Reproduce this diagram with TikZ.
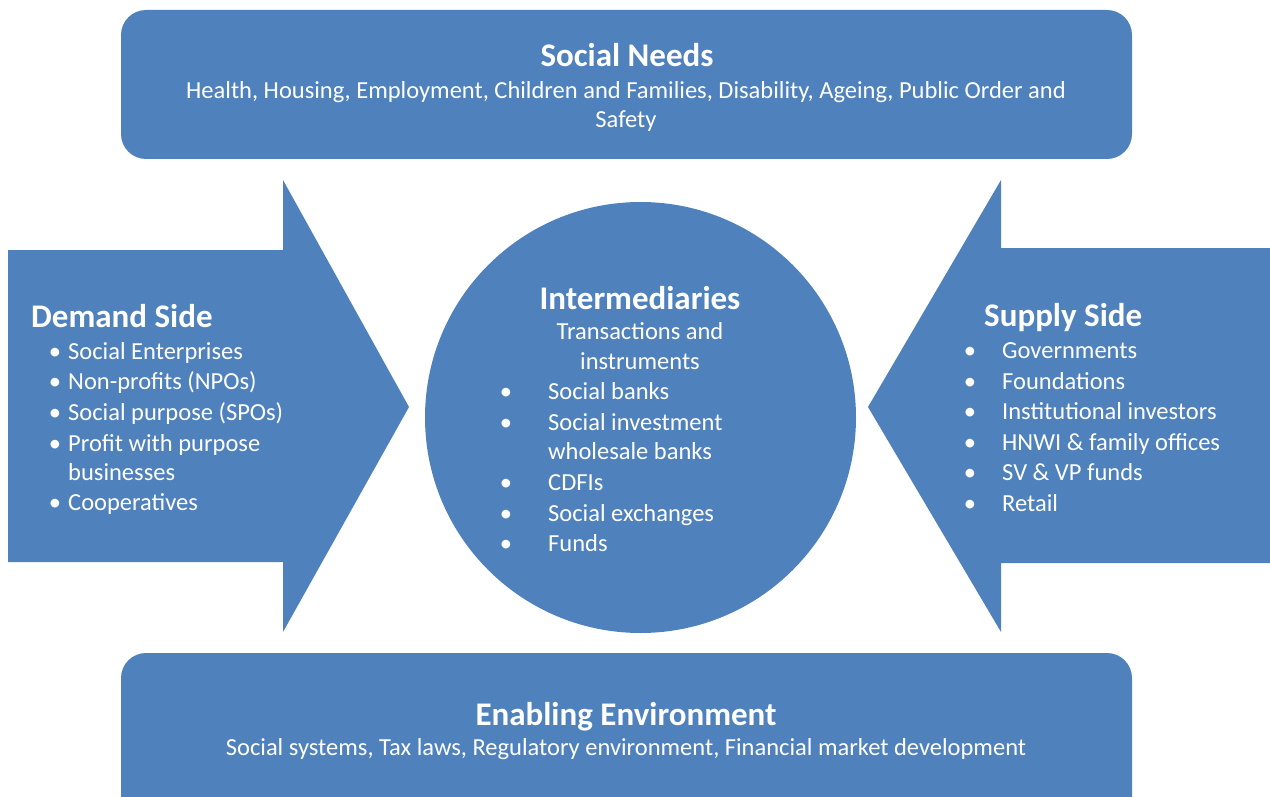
\documentclass[tikz,border=0pt]{standalone}
\usepackage{fontspec}
\setmainfont{Carlito}
\definecolor{blu}{HTML}{4F81BD}
\tikzset{
  shapefill/.style={fill=blu},
  ttl/.style={text=white, font=\bfseries\fontsize{33}{36}\selectfont, inner sep=0pt, text height=0.72em, text depth=0.2em, yshift=-9pt},
  txt/.style={text=white, font=\fontsize{24.5}{30}\selectfont, inner sep=0pt, text height=0.72em, text depth=0.2em, yshift=-6pt},
  bul/.style={text=white, font=\fontsize{24.5}{30}\selectfont, inner sep=0pt, text height=0.72em, text depth=0.2em, yshift=-6pt},
}
\begin{document}
\begin{tikzpicture}[x=1pt,y=-1pt]
\useasboundingbox (0,0) rectangle (1270,797);
\clip (0,0) rectangle (1270,797);
% shapes
\fill[shapefill, rounded corners=25pt] (121,10) rectangle (1132,159);
\fill[shapefill, rounded corners=25pt] (121,653) rectangle (1132,822);
\fill[shapefill] (8,250) -- (283,250) -- (283,180) -- (409,407) -- (283,632) -- (283,562) -- (8,562) -- cycle;
\fill[shapefill] (1275,248) -- (1001,248) -- (1001,180) -- (868,407) -- (1001,632) -- (1001,563) -- (1275,563) -- cycle;
\node[shapefill, circle, minimum size=431pt, inner sep=0pt] (circ) at (640.5,417.5) {};
% Social Needs
\node[ttl] (sn) at (627,55) {Social Needs};
\node[txt] (sn1) at (626,90) {Health, Housing, Employment, Children and Families, Disability, Ageing, Public Order and};
\node[txt] (sn2) at (626,119) {Safety};
% Demand side
\node[ttl, anchor=west] (ds) at (31,316) {Demand Side};
\foreach \t/\yy/\n in {Social Enterprises/351/1, Non-profits (NPOs)/381/2, Social purpose (SPOs)/412/3, Profit with purpose/443/4, Cooperatives/502/6}{
  \node[bul] (db\n) at (55,\yy) {\textbullet};
  \node[txt, anchor=west] (dt\n) at (68,\yy) {\t};
}
\node[txt, anchor=west] (dt5) at (68,472) {businesses};
% Intermediaries
\node[ttl] (im) at (640,298) {Intermediaries};
\node[txt] (im1) at (640,331) {Transactions and};
\node[txt] (im2) at (640,361) {instruments};
\foreach \t/\yy/\n in {Social banks/391/1, Social investment/422/2, CDFIs/482/4, Social exchanges/513/5, Funds/543/6}{
  \node[bul] (ib\n) at (506,\yy) {\textbullet};
  \node[txt, anchor=west] (it\n) at (548,\yy) {\t};
}
\node[txt, anchor=west] (it3) at (548,451) {wholesale banks};
% Supply side
\node[ttl, anchor=west] (ss) at (984,315) {Supply Side};
\foreach \t/\yy/\n in {Governments/350/1, Foundations/381/2, Institutional investors/411/3, HNWI \& family offices/442/4, SV \& VP funds/472/5, Retail/503/6}{
  \node[bul] (sb\n) at (970,\yy) {\textbullet};
  \node[txt, anchor=west] (st\n) at (1002,\yy) {\t};
}
% Enabling environment
\node[ttl] (ee) at (626,714) {Enabling Environment};
\node[txt] (ee1) at (626,747) {Social systems, Tax laws, Regulatory environment, Financial market development};
\end{tikzpicture}
\end{document}
